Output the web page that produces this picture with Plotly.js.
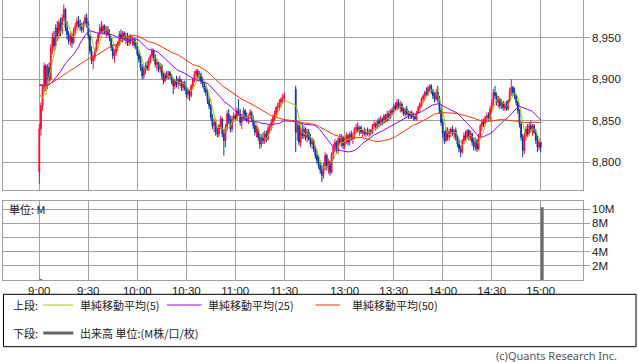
<!DOCTYPE html>
<html><head><meta charset="utf-8">
<script src="https://cdn.plot.ly/plotly-3.0.1.min.js"></script>
<style>html,body{margin:0;padding:0;background:#fff;}#c{width:638px;height:362px;}</style>
</head><body><div id="c"></div>
<script>
// ---- Data (1-minute candles, 9:00-11:30 and 12:30-15:00) ----
const amOpen = [8788,8840,8868,8890,8916,8892,8914,8900,8938,8950,
8940,8962,8952,8968,8958,8974,8984,8962,8954,8946,
8952,8944,8958,8964,8970,8966,8962,8960,8968,8974,
8966,8952,8934,8922,8926,8936,8946,8954,8962,8958,
8964,8956,8960,8954,8950,8938,8928,8932,8940,8944,
8954,8950,8956,8948,8952,8944,8950,8946,8948,8942,
8940,8930,8924,8914,8904,8912,8916,8912,8922,8928,
8934,8926,8918,8920,8912,8916,8904,8898,8906,8902,
8908,8904,8898,8892,8898,8894,8900,8896,8890,8896,
8888,8882,8886,8880,8892,8900,8906,8910,8904,8906,
8898,8894,8888,8884,8874,8868,8854,8844,8848,8836,
8834,8844,8852,8834,8826,8842,8858,8850,8840,8852,
8856,8852,8862,8858,8848,8854,8862,8854,8850,8856,
8860,8852,8844,8836,8840,8830,8822,8830,8826,8834,
8828,8840,8844,8848,8854,8858,8866,8868,8872,8876,
8878];
const amHigh = [8846,8872,8894,8920,8918,8918,8920,8942,8956,8958,
8966,8970,8972,8974,8978,8990,8986,8970,8958,8956,
8955,8962,8968,8974,8976,8972,8968,8970,8978,8979,
8970,8954,8940,8930,8938,8948,8956,8966,8970,8966,
8966,8964,8964,8960,8952,8942,8936,8942,8946,8958,
8960,8958,8958,8956,8956,8954,8954,8952,8950,8948,
8944,8934,8928,8918,8916,8920,8922,8926,8930,8938,
8936,8930,8924,8922,8920,8918,8908,8908,8910,8910,
8910,8906,8902,8900,8904,8902,8904,8900,8898,8898,
8892,8890,8888,8894,8902,8910,8912,8912,8910,8908,
8902,8896,8892,8888,8878,8870,8858,8852,8852,8842,
8846,8856,8854,8840,8846,8862,8864,8856,8856,8860,
8858,8866,8876,8864,8858,8866,8864,8860,8858,8864,
8862,8856,8848,8844,8842,8834,8834,8836,8838,8838,
8844,8846,8852,8856,8862,8868,8872,8876,8878,8882,
8884];
const amLow = [8774,8832,8862,8884,8886,8888,8896,8898,8930,8934,
8936,8946,8948,8952,8954,8970,8958,8948,8942,8940,
8938,8942,8954,8960,8962,8958,8956,8956,8964,8962,
8948,8930,8918,8912,8922,8932,8942,8950,8956,8954,
8954,8950,8952,8946,8934,8924,8920,8928,8934,8940,
8946,8944,8946,8942,8940,8940,8942,8940,8938,8936,
8928,8920,8910,8900,8900,8906,8910,8910,8918,8924,
8922,8914,8910,8908,8908,8900,8894,8896,8900,8900,
8900,8894,8882,8888,8890,8888,8892,8886,8886,8886,
8878,8876,8874,8878,8888,8896,8900,8900,8898,8894,
8890,8884,8880,8870,8864,8850,8840,8836,8832,8830,
8830,8840,8830,8808,8818,8838,8846,8836,8836,8848,
8850,8850,8856,8844,8840,8850,8850,8848,8846,8852,
8850,8840,8832,8830,8826,8816,8818,8822,8822,8824,
8826,8834,8838,8844,8850,8854,8860,8862,8866,8870,
8872];
const amClose = [8840,8868,8890,8916,8892,8914,8900,8938,8950,8940,
8962,8952,8968,8958,8974,8984,8962,8954,8946,8952,
8944,8958,8964,8970,8966,8962,8960,8968,8974,8966,
8952,8934,8922,8926,8936,8946,8954,8962,8958,8964,
8956,8960,8954,8950,8938,8928,8932,8940,8944,8954,
8950,8956,8948,8952,8944,8950,8946,8948,8942,8940,
8930,8924,8914,8904,8912,8916,8912,8922,8928,8934,
8926,8918,8920,8912,8916,8904,8898,8906,8902,8908,
8904,8898,8892,8898,8894,8900,8896,8890,8896,8888,
8882,8886,8880,8892,8900,8906,8910,8904,8906,8898,
8894,8888,8884,8874,8868,8854,8844,8848,8836,8834,
8844,8852,8834,8826,8842,8858,8850,8840,8852,8856,
8852,8862,8858,8848,8854,8862,8854,8850,8856,8860,
8852,8844,8836,8840,8830,8822,8830,8826,8834,8828,
8840,8844,8848,8854,8858,8866,8868,8872,8876,8878,
8880];
const pmOpen = [8888,8836,8844,8824,8838,8832,8840,8830,8836,8828,
8822,8826,8816,8808,8802,8796,8790,8784,8796,8808,
8794,8800,8788,8810,8818,8824,8814,8828,8824,8830,
8820,8828,8832,8824,8834,8828,8832,8840,8842,8838,
8842,8836,8838,8834,8836,8834,8838,8836,8844,8846,
8842,8850,8846,8852,8848,8856,8850,8858,8854,8862,
8860,8868,8864,8872,8866,8870,8862,8858,8864,8858,
8856,8860,8854,8856,8852,8860,8866,8870,8876,8880,
8884,8882,8890,8892,8886,8880,8876,8884,8876,8862,
8848,8834,8826,8838,8830,8836,8840,8834,8838,8830,
8822,8816,8812,8826,8832,8830,8838,8830,8834,8824,
8818,8826,8816,8832,8844,8848,8846,8854,8856,8852,
8864,8872,8884,8880,8872,8876,8868,8872,8866,8870,
8864,8874,8886,8890,8884,8880,8872,8862,8846,8830,
8814,8832,8840,8834,8844,8840,8844,8836,8826,8818,
8824];
const pmHigh = [8892,8848,8848,8842,8846,8844,8842,8840,8840,8834,
8830,8828,8820,8814,8808,8800,8796,8800,8812,8810,
8804,8802,8812,8822,8828,8826,8830,8834,8834,8832,
8830,8836,8834,8836,8838,8836,8842,8846,8848,8844,
8844,8840,8842,8840,8842,8840,8840,8846,8850,8848,
8852,8854,8856,8854,8858,8858,8862,8862,8864,8866,
8870,8872,8876,8876,8874,8872,8866,8866,8868,8862,
8862,8862,8860,8858,8862,8868,8872,8878,8882,8886,
8890,8892,8894,8894,8888,8884,8888,8892,8880,8866,
8852,8838,8842,8842,8840,8842,8844,8840,8842,8834,
8828,8820,8828,8836,8838,8840,8840,8838,8836,8830,
8830,8828,8834,8846,8852,8852,8856,8860,8860,8868,
8876,8888,8892,8884,8880,8878,8876,8874,8872,8874,
8876,8890,8900,8892,8890,8882,8874,8864,8848,8834,
8836,8844,8846,8848,8850,8846,8846,8840,8832,8828,
8826];
const pmLow = [8812,8826,8820,8818,8828,8828,8826,8824,8826,8818,
8816,8812,8804,8798,8792,8786,8776,8780,8790,8790,
8786,8784,8786,8804,8812,8810,8810,8820,8818,8816,
8816,8822,8820,8820,8826,8822,8828,8834,8836,8832,
8834,8830,8832,8830,8832,8830,8832,8834,8840,8838,
8840,8842,8844,8844,8846,8848,8848,8850,8852,8856,
8858,8862,8862,8864,8860,8860,8856,8854,8856,8852,
8852,8852,8850,8850,8850,8858,8862,8866,8872,8874,
8878,8880,8884,8882,8876,8872,8874,8872,8858,8844,
8830,8822,8824,8826,8826,8830,8832,8828,8826,8818,
8812,8806,8810,8822,8826,8828,8826,8826,8820,8814,
8814,8812,8814,8830,8838,8842,8844,8848,8850,8850,
8860,8868,8876,8868,8866,8864,8864,8862,8862,8862,
8862,8872,8880,8880,8876,8868,8858,8842,8826,8806,
8810,8826,8830,8832,8836,8832,8834,8822,8812,8814,
8812];
const pmClose = [8836,8844,8824,8838,8832,8840,8830,8836,8828,8822,
8826,8816,8808,8802,8796,8790,8784,8796,8808,8794,
8800,8788,8810,8818,8824,8814,8828,8824,8830,8820,
8828,8832,8824,8834,8828,8832,8840,8842,8838,8842,
8836,8838,8834,8836,8834,8838,8836,8844,8846,8842,
8850,8846,8852,8848,8856,8850,8858,8854,8862,8860,
8868,8864,8872,8866,8870,8862,8858,8864,8858,8856,
8860,8854,8856,8852,8860,8866,8870,8876,8880,8884,
8882,8890,8892,8886,8880,8876,8884,8876,8862,8848,
8834,8826,8838,8830,8836,8840,8834,8838,8830,8822,
8816,8812,8826,8832,8830,8838,8830,8834,8824,8818,
8826,8816,8832,8844,8848,8846,8854,8856,8852,8864,
8872,8884,8880,8872,8876,8868,8872,8866,8870,8864,
8874,8886,8890,8884,8880,8872,8862,8846,8830,8814,
8832,8840,8834,8844,8840,8844,8836,8826,8818,8824,
8818];
// level of the prior session that seeds the moving averages at 9:00
const priorLevel = 8895;
const maPeriods = [5, 25, 50];
const maNames = ['単純移動平均(5)', '単純移動平均(25)', '単純移動平均(50)'];
const volumeTimes = ['9:00', '15:00'];
const volumeValues = [0.15, 10.3];   // M shares
const tickTimes = ['9:00','9:30','10:00','10:30','11:00','11:30','13:00','13:30','14:00','14:30','15:00'];
const priceTicks = [8800, 8850, 8900, 8950];
const volTicks = [2, 4, 6, 8, 10];
const volTickText = ['2M','4M','6M','8M','10M'];

// ---- time axis: minute slots, lunch break compressed ----
const LUNCH_GAP = 7;
function slotOf(t){
  const [h,m] = t.split(':').map(Number); const mins = h*60+m;
  if (mins <= 11*60+30) return mins - 9*60;
  return 150 + LUNCH_GAP + (mins - (12*60+30));
}
function fmt(mins){ return Math.floor(mins/60)+':'+String(mins%60).padStart(2,'0'); }
const times = [];
for (let i=0;i<amClose.length;i++) times.push(fmt(9*60+i));
for (let i=0;i<pmClose.length;i++) times.push(fmt(12*60+30+i));
const xs = times.map(slotOf);
const O = amOpen.concat(pmOpen), Hh = amHigh.concat(pmHigh), L = amLow.concat(pmLow), C = amClose.concat(pmClose);

function sma(arr, n, seed){
  return arr.map((_,i)=>{ let s=0; for(let k=i-n+1;k<=i;k++) s += (k<0 ? seed : arr[k]); return s/n; });
}

// ---- pixel helpers ----
const W=638, HT=362;
const PX = p => p/W, PY = p => 1 - p/HT;
const slotAtPx = p => (p - 39.3)/1.6333;
const xr = [slotAtPx(3.3), slotAtPx(582.7)];
const FONT = '"Noto Sans CJK JP", "Noto Sans", sans-serif';
const TICKFONT = {family:'"Liberation Sans", Arial, sans-serif', size:11.5, color:'#222'};
const GRID = '#a0a0a0';
const maColors = ['#99cc00', '#9900ff', '#ff3300'];

const traces = [{
  type:'candlestick', x: xs, open:O, high:Hh, low:L, close:C,
  xaxis:'x', yaxis:'y', hoverinfo:'skip', showlegend:false,
  increasing:{line:{color:'#ff0a3c', width:1}, fillcolor:'#ff0a3c'},
  decreasing:{line:{color:'#0a3a9c', width:1}, fillcolor:'#0a3a9c'},
  whiskerwidth:0
}];
maPeriods.forEach((n,j)=>{
  traces.push({type:'scatter', mode:'lines', x: xs, y: sma(C, n, priorLevel), name: maNames[j],
    line:{color: maColors[j], width:1}, xaxis:'x', yaxis:'y', hoverinfo:'skip', showlegend:false});
});
traces.push({type:'bar', x: volumeTimes.map(slotOf), y: volumeValues, width: 1.8, offset: 0,
  marker:{color:'#6a6a6a', line:{width:0}}, xaxis:'x2', yaxis:'y2', hoverinfo:'skip', showlegend:false});

const tickSlots = tickTimes.map(slotOf);
const common = {gridcolor:GRID, gridwidth:1, linecolor:GRID, linewidth:1, zeroline:false, fixedrange:true};
const layout = {
  width:W, height:HT, margin:{l:0,r:0,t:0,b:0}, paper_bgcolor:'#fff', plot_bgcolor:'#fff',
  font:{family:FONT, size:12, color:'#222'}, showlegend:false, dragmode:false,
  xaxis: Object.assign({}, common, {domain:[PX(3.3),PX(582.7)], range:xr, anchor:'y',
    tickmode:'array', tickvals:tickSlots, showticklabels:false, ticks:'', showline:true, mirror:false,
    rangeslider:{visible:false}}),
  yaxis: Object.assign({}, common, {domain:[PY(190),1], range:[8766.5, 8995.4], anchor:'x', side:'right',
    tickmode:'array', tickvals:priceTicks, tickformat:',d', ticks:'outside', ticklen:6, tickcolor:GRID,
    showline:true, mirror:true, tickfont:TICKFONT}),
  xaxis2: Object.assign({}, common, {domain:[PX(3.3),PX(582.7)], range:xr, anchor:'y2',
    tickmode:'array', tickvals:tickSlots, ticktext:tickTimes, ticks:'', showline:true, mirror:true,
    tickfont:TICKFONT}),
  yaxis2: Object.assign({}, common, {domain:[PY(280),PY(201)], range:[0, 11.17], anchor:'x2', side:'right',
    tickmode:'array', tickvals:volTicks, ticktext:volTickText, ticks:'outside', ticklen:6, tickcolor:GRID,
    showline:true, mirror:true, tickfont:TICKFONT}),
  shapes: [
    {type:'rect', xref:'paper', yref:'paper', x0:PX(3.5), x1:PX(636), y0:PY(346.7), y1:PY(294.3), line:{color:'#000', width:1}},
    {type:'line', xref:'paper', yref:'paper', x0:PX(43.3), x1:PX(73.3), y0:PY(305), y1:PY(305), line:{color:maColors[0], width:1}},
    {type:'line', xref:'paper', yref:'paper', x0:PX(167), x1:PX(201.5), y0:PY(305), y1:PY(305), line:{color:maColors[1], width:1}},
    {type:'line', xref:'paper', yref:'paper', x0:PX(315.5), x1:PX(340), y0:PY(305), y1:PY(305), line:{color:maColors[2], width:1}},
    {type:'line', xref:'paper', yref:'paper', x0:PX(43.3), x1:PX(73.3), y0:PY(333), y1:PY(333), line:{color:'#666', width:3}}
  ],
  annotations: [
    {text:'単位: M', x:PX(7), y:PY(209.3)},
    {text:'上段:', x:PX(10.5), y:PY(305)},
    {text:maNames[0], x:PX(78), y:PY(305)},
    {text:maNames[1], x:PX(206), y:PY(305)},
    {text:maNames[2], x:PX(350), y:PY(305)},
    {text:'下段:', x:PX(10.5), y:PY(333)},
    {text:'出来高 単位:(M株/口/枚)', x:PX(78), y:PY(333)},
    {text:'(c)Quants Research Inc.', x:PX(619), y:PY(355), xanchor:'right',
      font:{size:11, color:'#555', family:'"Noto Sans", "Liberation Sans", sans-serif'}}
  ].map(a => Object.assign({xref:'paper', yref:'paper', xanchor:'left', yanchor:'middle', showarrow:false,
     font:{size:11, color:'#222', family:FONT}}, a))
};
Plotly.newPlot('c', traces, layout, {staticPlot:true, displayModeBar:false});
</script></body></html>
